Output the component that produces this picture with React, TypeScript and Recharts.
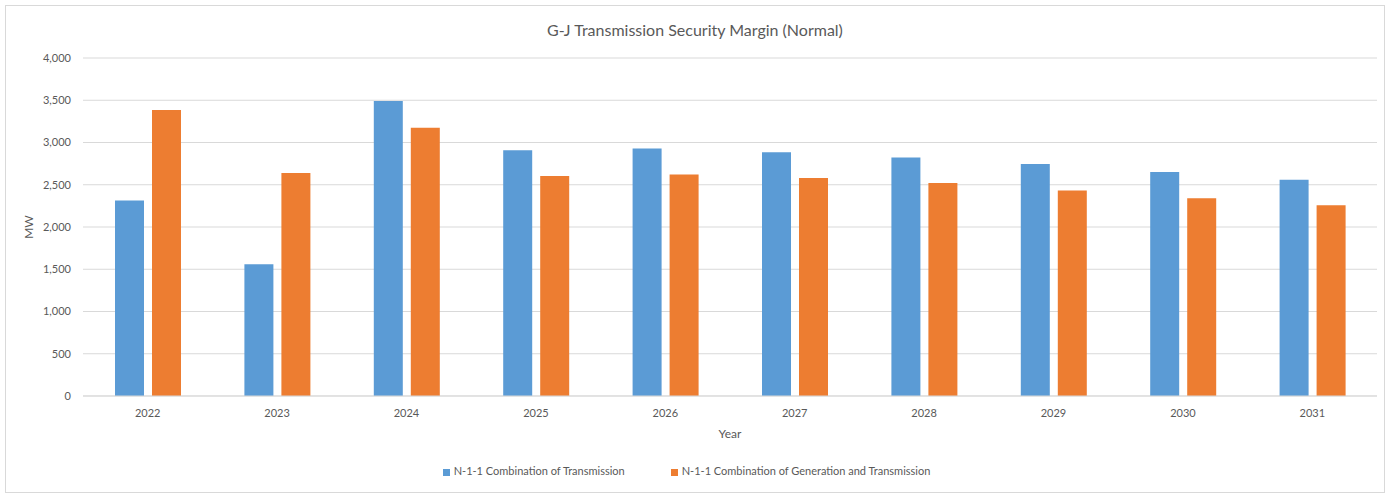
import React from 'react';
import { BarChart, Bar, XAxis, YAxis, CartesianGrid, Legend } from 'recharts';

const YEARS = ['2022', '2023', '2024', '2025', '2026', '2027', '2028', '2029', '2030', '2031'];
const TRANSMISSION = [2315, 1560, 3490, 2908, 2928, 2884, 2822, 2745, 2650, 2558];
const GEN_AND_TRANSMISSION = [3385, 2638, 3175, 2605, 2620, 2580, 2520, 2432, 2340, 2256];
const Y_TICKS = [0, 500, 1000, 1500, 2000, 2500, 3000, 3500, 4000];

const FONT = 'Lato, "Open Sans", sans-serif';
const TEXT = '#595959';

const data = YEARS.map((year, i) => ({
  year,
  s1: TRANSMISSION[i],
  s2: GEN_AND_TRANSMISSION[i],
}));

const App: React.FC = () => {
  return (
    <div style={{ position: 'absolute', left: 0, top: 0, width: 1390, height: 495, background: '#fff', fontFamily: FONT }}>
      <div
        style={{
          position: 'absolute',
          left: 5,
          top: 5,
          width: 1378,
          height: 486,
          border: '1px solid #d9d9d9',
        }}
      >
        <div
          style={{
            position: 'absolute',
            top: 14,
            left: 0,
            width: '100%',
            textAlign: 'center',
            fontSize: 16,
            color: TEXT,
          }}
        >
          G-J Transmission Security Margin (Normal)
        </div>
        <BarChart
          width={1378}
          height={486}
          data={data}
          margin={{ top: 52, right: 7, left: 0, bottom: 4 }}
          barGap={8}
          barSize={29}
        >
          <CartesianGrid vertical={false} stroke="#d9d9d9" />
          <XAxis
            dataKey="year"
            height={68}
            stroke="#d9d9d9"
            tickLine={false}
            tickSize={0}
            tickMargin={13}
            tick={{ fill: TEXT, fontSize: 11, fontFamily: FONT }}
            label={{
              content: (props: any) => {
                const vb = props.viewBox;
                return (
                  <text
                    x={vb.x + vb.width / 2}
                    y={vb.y + 39}
                    textAnchor="middle"
                    dominantBaseline="middle"
                    fill={TEXT}
                    fontSize={12}
                    fontFamily={FONT}
                  >
                    Year
                  </text>
                );
              },
            }}
          />
          <YAxis
            width={77}
            domain={[0, 4000]}
            ticks={Y_TICKS}
            axisLine={false}
            tickLine={false}
            tickSize={0}
            tickMargin={12}
            tickFormatter={(v: number) => v.toLocaleString('en-US')}
            tick={{ fill: TEXT, fontSize: 11, fontFamily: FONT }}
            label={{
              content: (props: any) => {
                const vb = props.viewBox;
                const cx = vb.x + 24;
                const cy = vb.y + vb.height / 2;
                return (
                  <text
                    x={cx}
                    y={cy}
                    textAnchor="middle"
                    dominantBaseline="middle"
                    transform={`rotate(-90 ${cx} ${cy})`}
                    fill={TEXT}
                    fontSize={12}
                    fontFamily={FONT}
                  >
                    MW
                  </text>
                );
              },
            }}
          />
          <Legend
            verticalAlign="bottom"
            iconType="square"
            iconSize={7}
            itemSorter="dataKey"
            wrapperStyle={{ height: 24, fontSize: 11, fontFamily: FONT, color: TEXT }}
            formatter={(value: string, _entry: any, index: number) => (
              <span style={{ color: TEXT, marginRight: index === 0 ? 36 : 0 }}>{value}</span>
            )}
          />
          <Bar
            dataKey="s1"
            name="N-1-1 Combination of Transmission"
            fill="#5b9bd5"
            isAnimationActive={false}
          />
          <Bar
            dataKey="s2"
            name="N-1-1 Combination of Generation and Transmission"
            fill="#ed7d31"
            isAnimationActive={false}
          />
        </BarChart>
      </div>
    </div>
  );
};

export default App;
